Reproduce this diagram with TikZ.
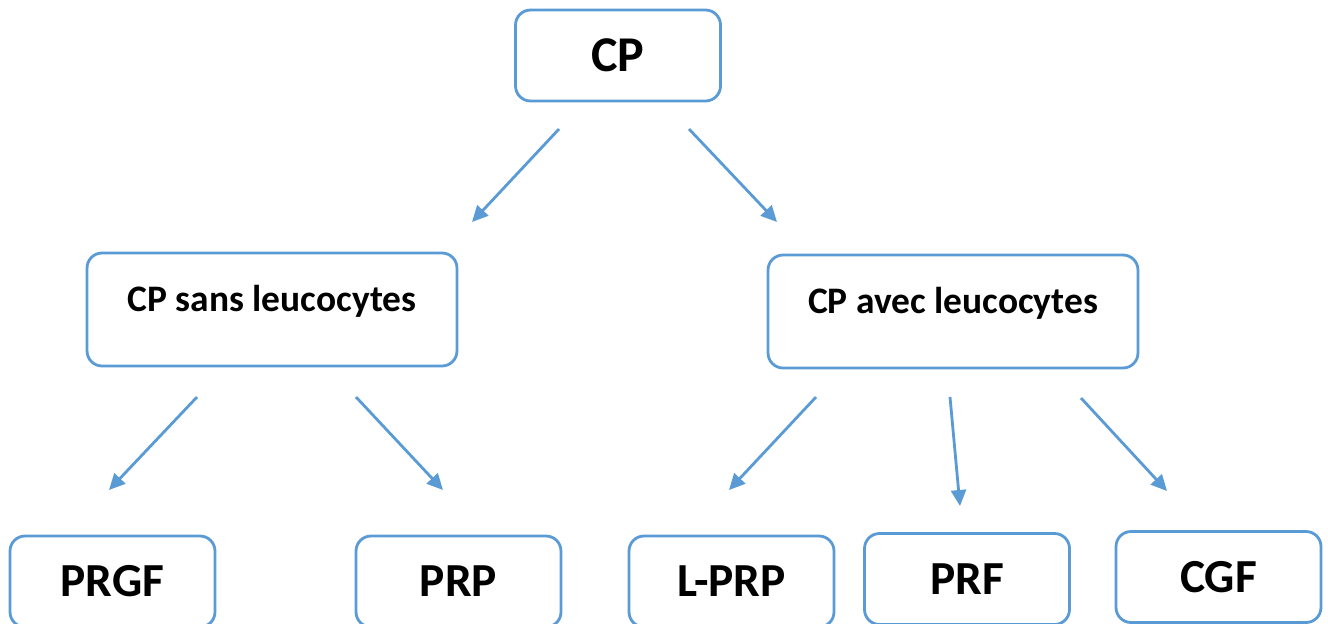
\documentclass[tikz,border=0pt]{standalone}
\usepackage{fontspec}
\setmainfont{Carlito}
\usetikzlibrary{arrows.meta}
\definecolor{boxblue}{RGB}{91,155,213}

\begin{document}
\begin{tikzpicture}[x=0.02cm, y=-0.02cm, line width=1.6pt,
        node_style/.style={draw=boxblue, rounded corners=0.3cm, inner sep=0pt, minimum width=4.1cm, minimum height=1.82cm, font=\fontsize{27}{32}\selectfont\bfseries},
        mid_node_style/.style={draw=boxblue, rounded corners=0.3cm, inner sep=0pt, minimum width=7.4cm, text height=1.16cm, text depth=1.1cm, font=\fontsize{21.3}{25}\selectfont\bfseries},
        edge_style/.style={draw=boxblue, line width=1.6pt, -{Triangle[length=0.32cm, width=0.3cm]}}]

        \clip (0,0) rectangle (1328,623);

        \node [node_style, font=\fontsize{28.5}{33}\selectfont\bfseries](cp) at (618,55.5) {CP};

        \node [mid_node_style](sans) at (272,309.5) {CP sans leucocytes};

        \node [mid_node_style](avec) at (953,311.5) {CP avec leucocytes};

        \node [node_style](prgf) at (112.5,581.5) {PRGF};

        \node [node_style](prp) at (458.5,581.5) {PRP};

        \node [node_style](lprp) at (731.5,581.5) {L-PRP};

        \node [node_style](prf) at (967,579) {PRF};

        \node [node_style](cgf) at (1218.5,577) {CGF};

        % free arrow ends
        \coordinate (cp_l_from) at (559,129);
        \coordinate (cp_l_to) at (472,222);
        \coordinate (cp_r_from) at (689,129);
        \coordinate (cp_r_to) at (777,222);
        \coordinate (sans_l_from) at (197,397);
        \coordinate (sans_l_to) at (109,490);
        \coordinate (sans_r_from) at (356,397);
        \coordinate (sans_r_to) at (443,490);
        \coordinate (avec_l_from) at (816,397);
        \coordinate (avec_l_to) at (729,490);
        \coordinate (avec_m_from) at (950,397);
        \coordinate (avec_m_to) at (960,506);
        \coordinate (avec_r_from) at (1081,398);
        \coordinate (avec_r_to) at (1167,491);

        \draw [edge_style] (cp_l_from) -- (cp_l_to);

        \draw [edge_style] (cp_r_from) -- (cp_r_to);

        \draw [edge_style] (sans_l_from) -- (sans_l_to);

        \draw [edge_style] (sans_r_from) -- (sans_r_to);

        \draw [edge_style] (avec_l_from) -- (avec_l_to);

        \draw [edge_style] (avec_m_from) -- (avec_m_to);

        \draw [edge_style] (avec_r_from) -- (avec_r_to);

\end{tikzpicture}
\end{document}
